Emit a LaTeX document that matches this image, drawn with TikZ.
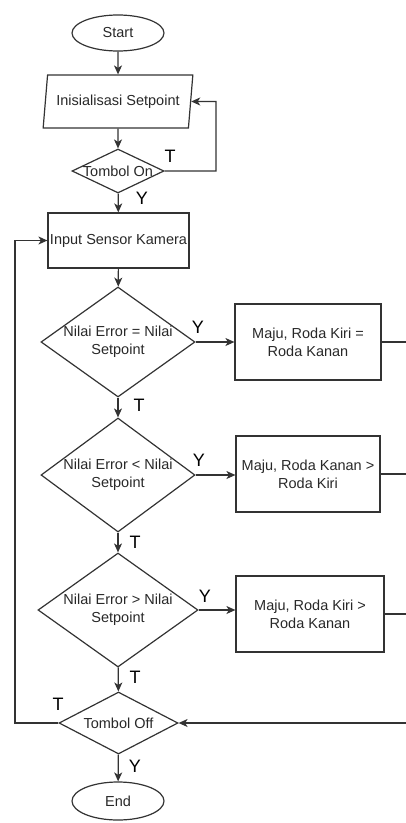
\documentclass[tikz,border=0pt]{standalone}
\usepackage{fontspec}
\setmainfont{Liberation Sans}
\usetikzlibrary{shapes.geometric,arrows.meta}
\definecolor{ln}{RGB}{51,51,51}
\definecolor{tx}{RGB}{40,40,40}
\begin{document}
\begin{tikzpicture}[x=1pt,y=-1pt,
  every node/.style={text=tx,font=\fontsize{14.5}{18}\selectfont},
  base/.style={draw=ln,line width=1.2pt,inner sep=0pt,align=center},
  term/.style={base,ellipse,minimum width=92pt,minimum height=36pt},
  io/.style={base,trapezium,trapezium left angle=74,trapezium right angle=106,trapezium stretches=true,minimum width=150pt,minimum height=53pt},
  proc/.style={base,rectangle},
  dec/.style={base,diamond,aspect=1},
  txt/.style={align=center,inner sep=0pt},
  lbl/.style={font=\fontsize{18}{20}\selectfont,text=black},
  arr/.style={draw=ln,line width=1.2pt,-{Stealth[length=9pt,width=8pt,inset=2.5pt]}},
  con/.style={draw=ln,line width=1.2pt}]
\useasboundingbox (0,0) rectangle (406,823);
\node[term] (start) at (118,33) {Start};
\node[io] (init) at (118,101.5) {Inisialisasi Setpoint};
\node[dec,minimum width=92pt,minimum height=44pt,label={[txt]center:Tombol On}] (on) at (118,171) {};
\node[proc,minimum width=141pt,minimum height=55pt] (input) at (118.5,240.5) {Input Sensor Kamera};
\node[dec,minimum width=154pt,minimum height=110pt,label={[txt]center:Nilai Error = Nilai\\Setpoint}] (d1) at (118,342) {};
\node[proc,minimum width=146pt,minimum height=76pt] (b1) at (308,342) {Maju, Roda Kiri =\\Roda Kanan};
\node[dec,minimum width=154pt,minimum height=114pt,label={[txt]center:Nilai Error < Nilai\\Setpoint}] (d2) at (118,475) {};
\node[proc,minimum width=144pt,minimum height=76pt] (b2) at (308,474) {Maju, Roda Kanan >\\Roda Kiri};
\node[dec,minimum width=160pt,minimum height=114pt,label={[txt]center:Nilai Error > Nilai\\Setpoint}] (d3) at (118,610) {};
\node[proc,minimum width=148pt,minimum height=76pt] (b3) at (310,614) {Maju, Roda Kiri >\\Roda Kanan};
\node[dec,minimum width=119pt,minimum height=62pt,label={[txt]center:Tombol Off}] (off) at (118.5,723) {};
\node[term,minimum height=38pt] (end) at (118,801) {End};
\coordinate (r1) at (406,342);
\coordinate (r2) at (406,474);
\coordinate (r3) at (406,614);
\coordinate (r4) at (406,723);
\coordinate (loopA) at (216,171);
\coordinate (loopB) at (216,101.5);
\coordinate (backA) at (15,723);
\coordinate (backB) at (15,240.5);
\draw[arr] (start) -- (init);
\draw[arr] (init) -- (on);
\draw[arr] (on.east) -- (loopA) -- (loopB) -- (init.east);
\draw[arr] (on) -- (input);
\draw[arr] (input) -- (d1);
\draw[arr] (d1.east) -- (b1.west |- d1.east);
\draw[con] (b1.east) -- (r1);
\draw[arr] (d1) -- (d2);
\draw[arr] (d2.east) -- (b2.west |- d2.east);
\draw[con] (b2.east) -- (r2);
\draw[arr] (d2) -- (d3);
\draw[arr] (d3.east) -- (b3.west |- d3.east);
\draw[con] (b3.east) -- (r3);
\draw[arr] (d3) -- (off);
\draw[arr] (r4) -- (off.east);
\draw[arr] (off.west) -- (backA) -- (backB) -- (input.west);
\draw[arr] (off) -- (end);
\node[lbl] (tOn) at (170,156) {T};
\node[lbl] (yOn) at (142,198) {Y};
\node[lbl] (y1) at (198,327) {Y};
\node[lbl] (t1) at (139,405) {T};
\node[lbl] (y2) at (199,460) {Y};
\node[lbl] (t2) at (135,542) {T};
\node[lbl] (y3) at (205,596) {Y};
\node[lbl] (t3) at (135,677) {T};
\node[lbl] (tOff) at (58,704) {T};
\node[lbl] (yOff) at (135,766) {Y};
\end{tikzpicture}
\end{document}
